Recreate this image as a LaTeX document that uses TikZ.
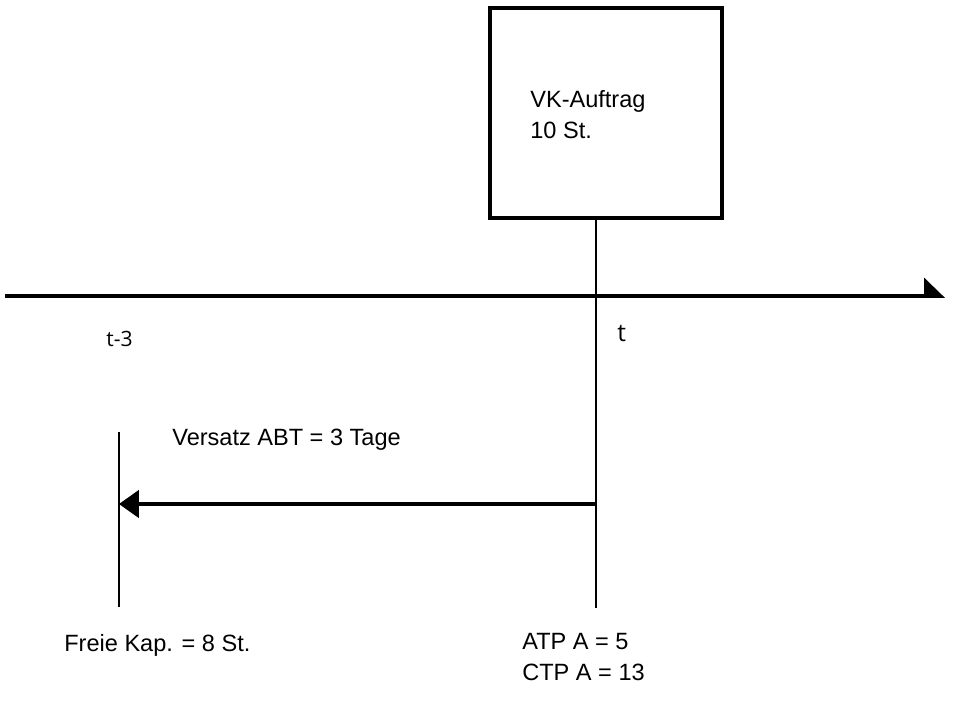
\documentclass[tikz,border=0pt]{standalone}
\usepackage{fontspec}
\setmainfont{Liberation Sans}
\newfontfamily\tickfont{Open Sans}
\usetikzlibrary{arrows.meta}
\begin{document}
\begin{tikzpicture}[x=0.02cm,y=-0.02cm,
        txt/.style={font=\fontsize{13.4}{17.5}\selectfont, inner sep=0pt, anchor=base west, align=left},
        tick/.style={font=\tickfont\fontsize{12}{14}\selectfont, inner sep=0pt, anchor=base west}]
                \useasboundingbox (0,0) rectangle (960,720);
                \coordinate (S) at (5,296);
                \coordinate (E) at (945,296);
                \coordinate (T) at (596,296);
                \coordinate (Tend) at (596,608);
                \coordinate (Ta) at (596,504);
                \coordinate (Ua) at (119,504);
                \coordinate (Utop) at (119,432);
                \coordinate (Uend) at (119,607);
                \node[draw, line width=2pt, minimum width=4.64cm, minimum height=4.2cm] (auftrag) at (606,113) {};
                \node[txt] (vk) at (530,138) {VK-Auftrag\\10 St.};
                \draw[line width=2.1pt, -{Triangle[harpoon, length=0.38cm, width=0.72cm]}] (S) -- (E);
                \draw[line width=1.3pt] (T |- auftrag.south) -- (Tend);
                \draw[line width=1.3pt] (Utop) -- (Uend);
                \draw[line width=2pt, -{Triangle[length=0.4cm, width=0.55cm]}] (Ta) -- (Ua);
                \node[tick, font=\tickfont\fontsize{14}{16}\selectfont] (t) at (617,341) {t};
                \node[tick] (t3) at (106,346) {t-3};
                \node[txt] (versatz) at (172,445) {Versatz ABT = 3 Tage};
                \node[txt] (frei) at (64,651) {Freie Kap. = 8 St.};
                \node[txt] (atp) at (522,680) {ATP A = 5\\CTP A = 13};
            \end{tikzpicture}
\end{document}
